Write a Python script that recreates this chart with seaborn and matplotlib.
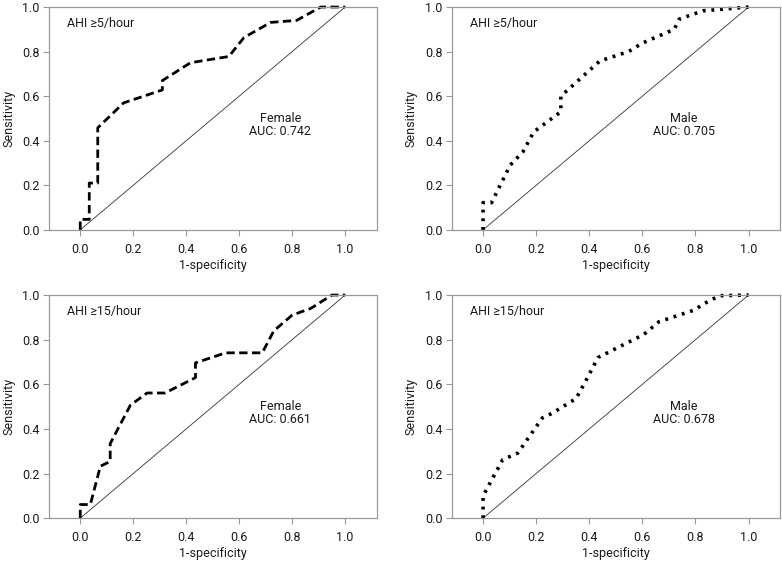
import matplotlib
matplotlib.use("Agg")
import matplotlib.pyplot as plt
import seaborn as sns
import pandas as pd

sns.set_theme(style="ticks")
plt.rcParams['font.family'] = ['Roboto', 'DejaVu Sans']

# Female, AHI >=5/hour
f5_x = [0.0, 0.0, 0.034, 0.034, 0.066, 0.066, 0.164, 0.31, 0.31, 0.416, 0.561, 0.618, 0.719, 0.817, 0.908, 1.0]
f5_y = [0.0, 0.047, 0.047, 0.21, 0.21, 0.458, 0.57, 0.628, 0.67, 0.75, 0.778, 0.863, 0.931, 0.94, 1.0, 1.0]
# Male, AHI >=5/hour
m5_x = [0.0, 0.0, 0.032, 0.102, 0.15, 0.191, 0.293, 0.293, 0.44, 0.548, 0.6, 0.72, 0.739, 0.828, 1.0]
m5_y = [0.0, 0.122, 0.122, 0.29, 0.35, 0.44, 0.53, 0.60, 0.758, 0.80, 0.838, 0.90, 0.946, 0.983, 1.0]
# Female, AHI >=15/hour
f15_x = [0.0, 0.0, 0.038, 0.076, 0.113, 0.113, 0.189, 0.252, 0.32, 0.435, 0.435, 0.549, 0.687, 0.731, 0.80, 0.87, 0.95, 1.0]
f15_y = [0.0, 0.061, 0.061, 0.233, 0.254, 0.334, 0.506, 0.561, 0.561, 0.63, 0.696, 0.741, 0.741, 0.84, 0.91, 0.94, 1.0, 1.0]
# Male, AHI >=15/hour
m15_x = [0.0, 0.0, 0.074, 0.131, 0.223, 0.26, 0.35, 0.38, 0.433, 0.605, 0.662, 0.796, 0.83, 0.89, 1.0]
m15_y = [0.0, 0.10, 0.262, 0.292, 0.449, 0.47, 0.536, 0.60, 0.72, 0.823, 0.88, 0.933, 0.96, 0.997, 1.0]

ticks = [0.0, 0.2, 0.4, 0.6, 0.8, 1.0]
tick_labels = ["0.0", "0.2", "0.4", "0.6", "0.8", "1.0"]

panels = [
    (f5_x, f5_y, "AHI \u22655/hour", "Female", "AUC: 0.742", "dashed"),
    (m5_x, m5_y, "AHI \u22655/hour", "Male", "AUC: 0.705", "dotted"),
    (f15_x, f15_y, "AHI \u226515/hour", "Female", "AUC: 0.661", "dashed"),
    (m15_x, m15_y, "AHI \u226515/hour", "Male", "AUC: 0.678", "dotted"),
]

fig = plt.figure(figsize=(7.82, 5.62), dpi=100)
positions = [
    [0.063, 0.591, 0.419, 0.3965],
    [0.578, 0.591, 0.42, 0.3965],
    [0.063, 0.078, 0.419, 0.397],
    [0.578, 0.078, 0.42, 0.397],
]

spine_col = "#999999"
txt_col = "#1a1a1a"
fs = 9.0
for pos, (xs, ys, title, sex, auc, style) in zip(positions, panels):
    ax = fig.add_axes(pos)
    df = pd.DataFrame({"x": xs, "y": ys})
    sns.lineplot(x=[0, 1], y=[0, 1], ax=ax, color="#333333", linewidth=0.6)
    if style == "dashed":
        ls = (0, (3, 1.6))
        lw = 2.0
    else:
        ls = (0, (0.8, 1.6))
        lw = 2.6
    sns.lineplot(data=df, x="x", y="y", ax=ax, sort=False, estimator=None,
                 color="black", linewidth=lw, linestyle=ls)
    for ln in ax.lines:
        ln.set_clip_on(False)
    ax.set_xlim(-0.117, 1.12)
    ax.set_ylim(0, 1.0)
    ax.set_xticks(ticks)
    ax.set_xticklabels(tick_labels)
    ax.set_yticks(ticks)
    ax.set_yticklabels(tick_labels)
    ax.tick_params(labelsize=fs, colors=txt_col, length=4.5, width=0.8, color=spine_col)
    ax.tick_params(axis="x", pad=5)
    ax.tick_params(axis="y", pad=2.5)
    for s in ax.spines.values():
        s.set_color(spine_col)
        s.set_linewidth(0.9)
    ax.set_xlabel("1-specificity", fontsize=fs, color=txt_col, labelpad=2)
    ax.set_ylabel("Sensitivity", fontsize=fs, color=txt_col, labelpad=5)
    ax.text(-0.05, 0.925, title, fontsize=fs, ha="left", va="center", color=txt_col)
    ax.text(0.755, 0.50, sex, fontsize=fs, ha="center", va="center", color=txt_col)
    ax.text(0.755, 0.443, auc, fontsize=fs, ha="center", va="center", color=txt_col)

fig.savefig("out.png", dpi=100)
